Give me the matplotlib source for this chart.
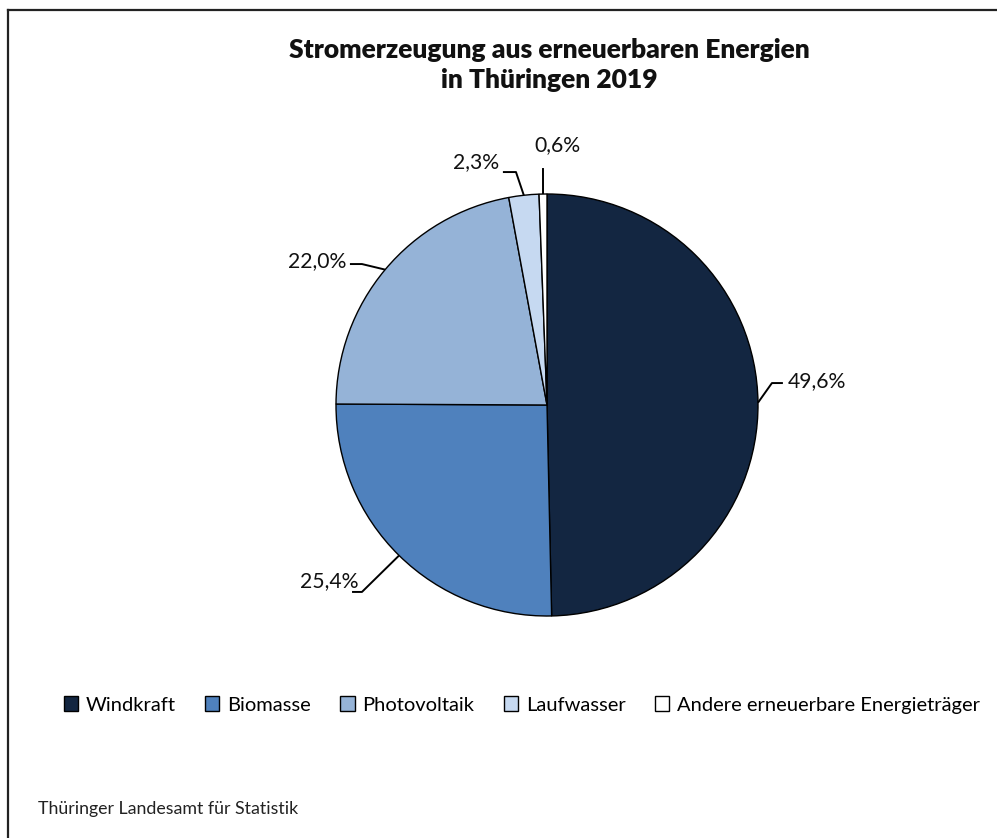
import numpy as np
import matplotlib
matplotlib.use("Agg")
import matplotlib.pyplot as plt
from matplotlib.patches import Patch
from matplotlib.lines import Line2D

plt.rcParams['font.family'] = ['Lato', 'DejaVu Sans']

categories = ["Windkraft", "Biomasse", "Photovoltaik", "Laufwasser",
              "Andere erneuerbare Energieträger"]
shares = [49.6, 25.4, 22.0, 2.3, 0.6]
labels = ["49,6%", "25,4%", "22,0%", "2,3%", "0,6%"]
colors = ["#132641", "#4f81bd", "#95b3d7", "#c6d9f1", "#ffffff"]

W, H = 997, 838
fig = plt.figure(figsize=(W / 100, H / 100), dpi=100)

# pie axes: centre (547, 405) px, radius 211 px
cx, cy, r = 547, 405, 211
ax = fig.add_axes([(cx - r) / W, (H - cy - r) / H, 2 * r / W, 2 * r / H])
wedges, _ = ax.pie(shares, colors=colors, startangle=90, counterclock=False,
                   radius=1.0,
                   wedgeprops=dict(edgecolor="black", linewidth=1.0))
ax.set_xlim(-1, 1)
ax.set_ylim(-1, 1)
ax.set_aspect("equal")
ax.axis("off")

# label placement (layout only): elbow points, line end, text anchor, alignment
label_layout = [
    dict(pts=[(1.066, 0.104), (1.118, 0.104)], text=(1.142, 0.111), ha="left"),
    dict(pts=[(-0.877, -0.886), (-0.924, -0.886)], text=(-0.893, -0.834), ha="right"),
    dict(pts=[(-0.877, 0.668), (-0.934, 0.668)], text=(-0.953, 0.684), ha="right"),
    dict(pts=[(-0.147, 1.104), (-0.209, 1.104)], text=(-0.226, 1.149), ha="right"),
    dict(pts=[(-0.019, 1.123)], text=(0.05, 1.234), ha="center"),
]

for w, lab, lay in zip(wedges, labels, label_layout):
    ang = np.deg2rad((w.theta1 + w.theta2) / 2)
    edge = (np.cos(ang), np.sin(ang))
    xs = [edge[0]] + [p[0] for p in lay["pts"]]
    ys = [edge[1]] + [p[1] for p in lay["pts"]]
    ax.plot(xs, ys, color="black", lw=1.4, clip_on=False, solid_capstyle="butt")
    ax.text(lay["text"][0], lay["text"][1], lab, ha=lay["ha"], va="center",
            fontsize=15.2, color="#111111", clip_on=False)

# title
fig.text(549 / W, 1 - 65 / H, "Stromerzeugung aus erneuerbaren Energien\nin Thüringen 2019",
         ha="center", va="center", fontsize=19, fontweight="heavy",
         linespacing=1.35, color="#111111")

# legend
handles = [Patch(facecolor=c, edgecolor="black", linewidth=1.0) for c in colors]
fig.legend(handles, categories, loc="center", bbox_to_anchor=(522 / W, 1 - 705 / H),
           ncol=5, frameon=False, fontsize=14.5, handlelength=0.7, handleheight=0.7,
           handletextpad=0.4, columnspacing=1.45, borderaxespad=0)

# source
fig.text(38 / W, 1 - 809 / H, "Thüringer Landesamt für Statistik",
         ha="left", va="center", fontsize=12.8, color="#222222")

# chart border (top and left visible)
fig.add_artist(Line2D([8 / W, 8 / W], [0, 1 - 10 / H], transform=fig.transFigure,
                      color="#222222", lw=1.6))
fig.add_artist(Line2D([8 / W, 1], [1 - 10 / H, 1 - 10 / H], transform=fig.transFigure,
                      color="#222222", lw=1.6))

fig.savefig("out.png", dpi=100)
